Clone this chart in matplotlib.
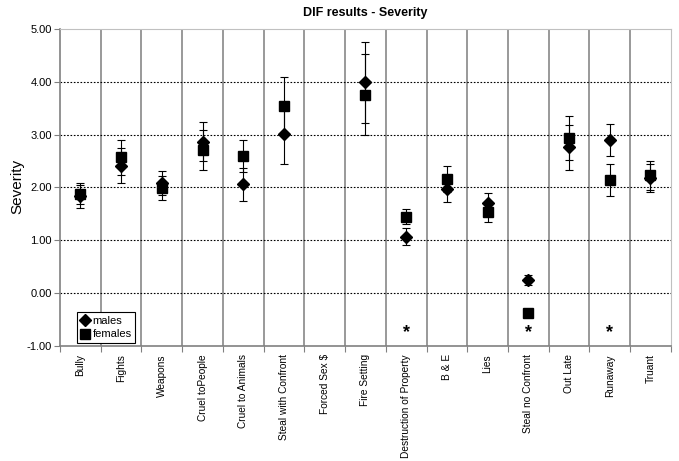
import numpy as np
import matplotlib.pyplot as plt
from matplotlib.lines import Line2D

categories = ["Bully", "Fights", "Weapons", "Cruel toPeople", "Cruel to Animals",
              "Steal with Confront", "Forced Sex $", "Fire Setting",
              "Destruction of Property", "B & E", "Lies", "Steal no Confront",
              "Out Late", "Runaway", "Truant"]

males = [1.83, 2.41, 2.08, 2.87, 2.06, 3.02, np.nan, 3.99, 1.07, 1.97, 1.70, 0.25, 2.76, 2.90, 2.18]
males_err = [0.22, 0.33, 0.23, 0.37, 0.31, 0.58, np.nan, 0.76, 0.16, 0.24, 0.19, 0.09, 0.43, 0.30, 0.27]
females = [1.88, 2.57, 1.99, 2.71, 2.59, 3.54, np.nan, 3.76, 1.45, 2.16, 1.54, -0.37, 2.94, 2.14, 2.23]
females_err = [0.20, 0.33, 0.23, 0.37, 0.30, 0.56, np.nan, 0.76, 0.14, 0.25, 0.19, 0.05, 0.42, 0.30, 0.27]

star_cats = ["Destruction of Property", "Steal no Confront", "Runaway"]
star_y = -0.75

plt.rcParams["font.family"] = ["Liberation Sans", "DejaVu Sans"]

fig = plt.figure(figsize=(6.79, 4.61), dpi=100)
ax = fig.add_axes([0.0884, 0.2495, 0.8996, 0.6876])

x = np.arange(len(categories))
ax.errorbar(x, females, yerr=females_err, fmt="s", color="black", ms=7,
            ecolor="black", elinewidth=0.8, capsize=3, capthick=0.8, zorder=3)
ax.errorbar(x, males, yerr=males_err, fmt="D", color="black", ms=6,
            ecolor="black", elinewidth=0.8, capsize=3, capthick=0.8, zorder=4)

for c in star_cats:
    ax.text(categories.index(c), star_y, "*", ha="center", va="center",
            fontsize=13, fontweight="bold", color="black")

ax.set_xlim(-0.5, len(categories) - 0.5)
ax.set_ylim(-1, 5)
ax.set_yticks(np.arange(-1, 5.01, 1))
ax.set_yticklabels([f"{v:.2f}" for v in np.arange(-1, 5.01, 1)], fontsize=8)

# category separators
for b in np.arange(0.5, len(categories) - 0.5, 1):
    ax.axvline(b, color="#888888", lw=1.2, zorder=1)
for v in range(0, 5):
    ax.axhline(v, color="black", lw=0.8, ls=(0, (1.5, 1.5)), zorder=1)

ax.set_xticks(np.arange(-0.5, len(categories), 1))
ax.set_xticklabels([])
ax.set_xticks(x, minor=True)
ax.set_xticklabels(categories, minor=True, rotation=90, fontsize=7.3, va="top")
ax.tick_params(axis="x", which="minor", length=0, pad=6)
ax.tick_params(axis="x", which="major", length=4, color="#808080")
ax.tick_params(axis="y", length=4, color="#808080", pad=2)

for s in ["top", "right"]:
    ax.spines[s].set_color("#c0c0c0")
for s in ["left", "bottom"]:
    ax.spines[s].set_color("#808080")
    ax.spines[s].set_linewidth(1.2)

fig.text(0.026, 0.595, "Severity", rotation=90, ha="center", va="center", fontsize=11)
ax.set_title("DIF results - Severity", fontsize=9, fontweight="bold", pad=9)

handles = [Line2D([], [], marker="D", color="black", ls="none", ms=6),
           Line2D([], [], marker="s", color="black", ls="none", ms=7)]
leg = ax.legend(handles, ["males", "females"], loc="lower left", bbox_to_anchor=(0.028, 0.01),
                fontsize=8, fancybox=False, edgecolor="black", framealpha=1,
                handlelength=0.9, handletextpad=0.2, borderpad=0.3, labelspacing=0.35,
                borderaxespad=0)
leg.get_frame().set_linewidth(0.8)

fig.savefig("out.png", dpi=100)
